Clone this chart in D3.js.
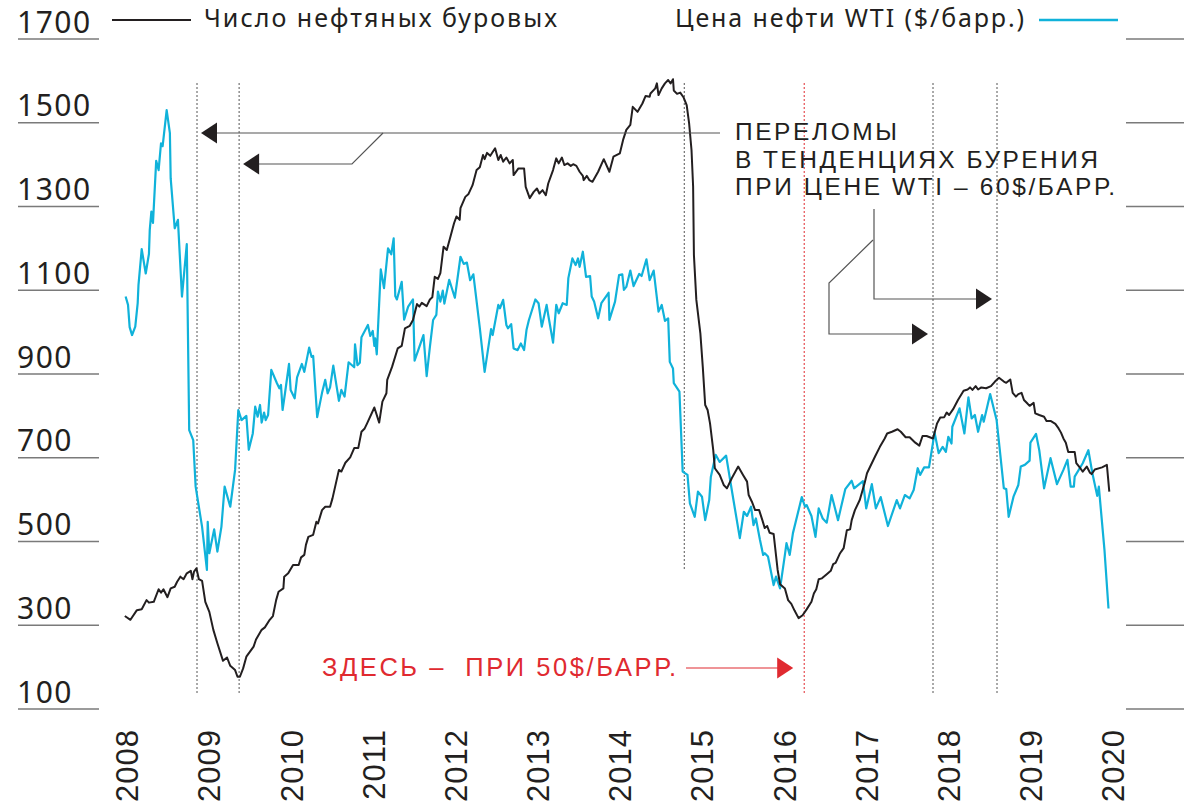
<!DOCTYPE html>
<html><head><meta charset="utf-8">
<script src="https://cdn.jsdelivr.net/npm/d3@7"></script>
<style>body{margin:0;background:#fff}svg{display:block}</style>
</head><body><svg id="c" width="1200" height="809"></svg>
<script>
// ---- DATA (decimal year, value) ----
const rigCount = [[2008.01,322],[2008.08,313],[2008.16,336],[2008.22,338],[2008.28,360],[2008.31,354],[2008.37,356],[2008.43,386],[2008.46,378],[2008.49,386],[2008.54,367],[2008.58,388],[2008.63,392],[2008.66,404],[2008.70,416],[2008.74,410],[2008.78,424],[2008.83,430],[2008.85,410],[2008.87,428],[2008.90,436],[2008.93,410],[2008.97,406],[2009.01,356],[2009.06,332],[2009.11,289],[2009.16,257],[2009.23,215],[2009.28,223],[2009.32,203],[2009.38,193],[2009.41,177],[2009.44,177],[2009.48,197],[2009.52,225],[2009.61,249],[2009.64,266],[2009.71,289],[2009.75,295],[2009.81,313],[2009.85,322],[2009.89,360],[2009.92,380],[2009.98,388],[2009.99,416],[2010.04,424],[2010.10,444],[2010.17,444],[2010.20,462],[2010.24,468],[2010.26,492],[2010.29,511],[2010.35,516],[2010.39,547],[2010.41,543],[2010.46,575],[2010.50,583],[2010.56,583],[2010.59,603],[2010.67,671],[2010.70,667],[2010.75,688],[2010.81,701],[2010.86,723],[2010.91,723],[2010.95,762],[2010.99,770],[2011.02,782],[2011.11,820],[2011.17,784],[2011.21,834],[2011.26,854],[2011.27,886],[2011.33,917],[2011.40,961],[2011.45,967],[2011.49,1009],[2011.55,1015],[2011.59,1029],[2011.64,1067],[2011.67,1061],[2011.70,1070],[2011.76,1062],[2011.80,1078],[2011.83,1083],[2011.86,1132],[2011.90,1127],[2011.93,1141],[2011.97,1204],[2012.01,1196],[2012.05,1224],[2012.10,1260],[2012.13,1276],[2012.17,1268],[2012.18,1296],[2012.24,1323],[2012.28,1330],[2012.33,1351],[2012.38,1387],[2012.42,1394],[2012.46,1423],[2012.48,1413],[2012.51,1428],[2012.55,1421],[2012.61,1439],[2012.65,1411],[2012.68,1423],[2012.71,1407],[2012.75,1417],[2012.79,1403],[2012.83,1411],[2012.84,1375],[2012.90,1391],[2012.97,1391],[2012.99,1347],[2013.04,1320],[2013.09,1335],[2013.13,1343],[2013.16,1331],[2013.20,1339],[2013.24,1327],[2013.27,1355],[2013.33,1387],[2013.37,1415],[2013.40,1403],[2013.44,1417],[2013.47,1399],[2013.51,1403],[2013.55,1397],[2013.58,1401],[2013.62,1397],[2013.66,1383],[2013.70,1373],[2013.71,1363],[2013.75,1373],[2013.78,1363],[2013.82,1359],[2013.89,1383],[2013.96,1413],[2014.03,1383],[2014.08,1419],[2014.16,1427],[2014.20,1459],[2014.24,1483],[2014.29,1495],[2014.32,1538],[2014.38,1526],[2014.44,1546],[2014.48,1564],[2014.53,1562],[2014.54,1570],[2014.60,1582],[2014.62,1594],[2014.64,1566],[2014.68,1582],[2014.72,1594],[2014.76,1602],[2014.79,1594],[2014.82,1604],[2014.83,1577],[2014.87,1569],[2014.91,1572],[2014.95,1561],[2014.99,1542],[2015.02,1499],[2015.05,1435],[2015.07,1347],[2015.08,1184],[2015.11,1077],[2015.16,997],[2015.19,917],[2015.22,826],[2015.25,814],[2015.28,782],[2015.32,718],[2015.34,675],[2015.40,659],[2015.45,635],[2015.49,627],[2015.55,651],[2015.63,679],[2015.69,659],[2015.74,643],[2015.76,611],[2015.80,595],[2015.84,575],[2015.89,575],[2015.93,551],[2015.96,532],[2015.99,537],[2016.02,521],[2016.07,518],[2016.12,432],[2016.15,398],[2016.21,388],[2016.25,360],[2016.29,351],[2016.33,335],[2016.38,317],[2016.43,324],[2016.48,338],[2016.54,356],[2016.57,376],[2016.60,386],[2016.63,410],[2016.67,412],[2016.73,422],[2016.78,430],[2016.81,446],[2016.84,449],[2016.89,470],[2016.91,476],[2016.94,484],[2016.98,527],[2017.02,529],[2017.04,551],[2017.08,575],[2017.14,599],[2017.20,639],[2017.23,663],[2017.27,679],[2017.33,703],[2017.39,726],[2017.45,746],[2017.48,758],[2017.54,762],[2017.61,768],[2017.65,762],[2017.71,749],[2017.76,749],[2017.83,736],[2017.88,729],[2017.92,752],[2017.97,752],[2018.05,746],[2018.10,782],[2018.14,796],[2018.19,797],[2018.22,808],[2018.25,802],[2018.30,816],[2018.36,838],[2018.43,860],[2018.48,863],[2018.51,868],[2018.54,862],[2018.58,871],[2018.61,863],[2018.65,868],[2018.71,866],[2018.77,871],[2018.82,882],[2018.87,891],[2018.93,882],[2018.96,879],[2019.01,887],[2019.04,855],[2019.08,846],[2019.11,852],[2019.15,855],[2019.18,838],[2019.22,830],[2019.25,824],[2019.30,831],[2019.32,806],[2019.37,802],[2019.43,798],[2019.46,788],[2019.51,788],[2019.57,781],[2019.61,770],[2019.64,760],[2019.67,746],[2019.70,736],[2019.73,714],[2019.81,714],[2019.83,687],[2019.88,675],[2019.91,667],[2019.96,679],[2020.00,664],[2020.02,661],[2020.06,672],[2020.15,677],[2020.21,683],[2020.24,619]];

const oilPrice = [[2008.02,98.5],[2008.05,96.5],[2008.07,91.2],[2008.10,89.3],[2008.14,91.3],[2008.17,96.9],[2008.18,101.3],[2008.22,109.8],[2008.27,104.0],[2008.31,108.7],[2008.32,114.4],[2008.34,118.8],[2008.36,116.1],[2008.40,130.9],[2008.43,128.7],[2008.46,135.1],[2008.48,134.4],[2008.53,143.0],[2008.57,137.5],[2008.58,126.7],[2008.63,114.8],[2008.67,116.8],[2008.72,98.5],[2008.78,111.0],[2008.81,66.6],[2008.86,64.2],[2008.89,53.1],[2008.97,43.5],[2009.03,33.2],[2009.04,44.7],[2009.06,37.2],[2009.12,42.9],[2009.16,37.6],[2009.21,43.5],[2009.25,53.1],[2009.32,48.3],[2009.38,57.1],[2009.42,71.4],[2009.46,69.0],[2009.52,70.0],[2009.55,61.9],[2009.60,65.8],[2009.63,72.2],[2009.66,69.8],[2009.69,72.6],[2009.71,68.4],[2009.74,70.8],[2009.76,69.0],[2009.79,70.2],[2009.83,81.0],[2009.90,77.8],[2009.93,76.6],[2009.95,77.4],[2009.97,71.4],[2010.00,75.4],[2010.05,82.4],[2010.07,76.2],[2010.12,74.2],[2010.15,79.2],[2010.21,82.4],[2010.24,80.5],[2010.30,86.3],[2010.33,84.1],[2010.35,84.3],[2010.40,69.7],[2010.46,75.5],[2010.50,78.6],[2010.53,75.4],[2010.56,76.8],[2010.60,82.0],[2010.67,73.6],[2010.70,76.2],[2010.74,74.6],[2010.79,82.8],[2010.86,81.6],[2010.87,87.1],[2010.90,82.1],[2010.93,82.7],[2010.95,88.8],[2011.03,91.7],[2011.06,89.1],[2011.09,90.3],[2011.11,86.7],[2011.12,88.5],[2011.14,84.7],[2011.19,105.0],[2011.23,100.5],[2011.28,110.0],[2011.32,108.6],[2011.35,112.4],[2011.37,98.6],[2011.39,97.8],[2011.45,102.0],[2011.48,93.0],[2011.53,96.1],[2011.59,97.8],[2011.61,83.2],[2011.72,89.3],[2011.76,79.5],[2011.80,86.5],[2011.84,92.9],[2011.88,94.1],[2011.90,99.7],[2011.93,97.3],[2011.96,99.9],[2011.98,96.8],[2012.04,102.5],[2012.11,98.2],[2012.18,108.0],[2012.22,106.3],[2012.26,106.6],[2012.30,102.4],[2012.34,103.8],[2012.42,91.0],[2012.48,80.5],[2012.56,90.7],[2012.58,89.3],[2012.65,96.5],[2012.67,95.7],[2012.71,97.7],[2012.75,91.7],[2012.77,90.9],[2012.81,91.9],[2012.84,86.1],[2012.89,85.7],[2012.93,87.3],[2012.97,85.7],[2013.00,90.5],[2013.03,92.9],[2013.11,97.8],[2013.15,96.9],[2013.19,91.3],[2013.25,96.5],[2013.27,94.1],[2013.33,87.5],[2013.37,96.5],[2013.40,94.5],[2013.45,96.9],[2013.50,96.5],[2013.52,102.9],[2013.57,107.6],[2013.61,106.0],[2013.64,107.6],[2013.66,105.6],[2013.70,109.2],[2013.74,103.2],[2013.79,103.4],[2013.81,98.5],[2013.84,97.3],[2013.89,93.3],[2013.93,96.9],[2014.02,99.4],[2014.03,92.9],[2014.10,97.3],[2014.15,103.6],[2014.19,103.8],[2014.21,100.1],[2014.24,100.8],[2014.29,104.7],[2014.33,101.0],[2014.40,103.9],[2014.43,103.4],[2014.49,107.4],[2014.53,102.4],[2014.58,104.7],[2014.64,94.9],[2014.68,96.5],[2014.72,92.7],[2014.76,93.3],[2014.78,82.9],[2014.82,81.3],[2014.83,77.8],[2014.90,75.8],[2014.94,56.7],[2015.00,55.9],[2015.03,49.1],[2015.09,45.9],[2015.13,51.9],[2015.18,50.7],[2015.22,45.1],[2015.27,49.9],[2015.29,55.4],[2015.35,60.7],[2015.40,59.0],[2015.48,60.5],[2015.54,53.5],[2015.65,40.8],[2015.70,47.1],[2015.74,46.1],[2015.79,48.3],[2015.82,43.9],[2015.85,45.5],[2015.90,40.4],[2015.94,36.8],[2015.96,37.2],[2016.00,36.4],[2016.07,29.6],[2016.10,31.6],[2016.15,28.8],[2016.21,36.8],[2016.23,39.6],[2016.27,36.8],[2016.31,42.0],[2016.42,50.6],[2016.46,48.3],[2016.48,48.7],[2016.54,46.1],[2016.59,41.1],[2016.63,47.9],[2016.68,45.5],[2016.73,44.5],[2016.79,51.1],[2016.87,45.1],[2016.96,52.5],[2017.04,54.5],[2017.07,52.7],[2017.18,54.4],[2017.22,47.9],[2017.29,53.7],[2017.34,47.9],[2017.40,50.6],[2017.49,43.7],[2017.60,49.9],[2017.64,47.9],[2017.70,51.1],[2017.76,50.3],[2017.81,52.3],[2017.86,57.5],[2017.89,55.9],[2017.94,57.7],[2018.00,57.7],[2018.07,66.0],[2018.12,61.1],[2018.17,62.6],[2018.21,61.4],[2018.24,65.0],[2018.28,63.4],[2018.29,67.4],[2018.38,71.8],[2018.44,65.8],[2018.49,74.4],[2018.53,69.4],[2018.57,70.2],[2018.61,66.2],[2018.66,70.2],[2018.68,68.6],[2018.76,75.2],[2018.84,69.0],[2018.88,61.8],[2018.93,52.7],[2018.96,52.5],[2018.99,45.9],[2019.05,50.7],[2019.11,53.5],[2019.14,57.9],[2019.19,58.3],[2019.25,59.3],[2019.26,63.6],[2019.33,65.7],[2019.37,61.8],[2019.43,52.7],[2019.51,59.9],[2019.59,53.7],[2019.67,57.1],[2019.72,59.5],[2019.76,53.1],[2019.80,53.1],[2019.81,55.5],[2019.91,58.7],[2019.98,61.8],[2020.03,56.3],[2020.09,50.9],[2020.11,53.1],[2020.18,38.0],[2020.23,24.0]];

const leftTicks = [100, 300, 500, 700, 900, 1100, 1300, 1500, 1700];
const rightTicks = [0, 20, 40, 60, 80, 100, 120, 140, 160];
const years = [2008, 2009, 2010, 2011, 2012, 2013, 2014, 2015, 2016, 2017, 2018, 2019, 2020];
const breaks60 = [2008.907, 2009.43, 2014.96, 2018.05, 2018.845];
const break50 = 2016.45;
const legendLabels = ["Число нефтяных буровых", "Цена нефти WTI ($/барр.)"];
const note60 = ["ПЕРЕЛОМЫ", "В ТЕНДЕНЦИЯХ БУРЕНИЯ", "ПРИ ЦЕНЕ WTI – 60$/БАРР."];
const note50 = "ЗДЕСЬ –  ПРИ 50$/БАРР.";

// ---- STYLE ----
const INK = "#231f20", BLUE = "#10b2da", RED = "#e02a30", GRID = "#7a7a7a";
const FONT = "'Noto Sans', sans-serif";
const NOTEFONT = "'Liberation Sans', Arial, sans-serif";

const svg = d3.select("#c");
const x = d3.scaleLinear().domain([2008, 2020.25]).range([124, 1110.1]);
const yearPos = d3.scaleLinear().domain([2008, 2020]).range([127, 1113]);
const y = d3.scaleLinear().domain([100, 1700]).range([709, 39]);
const y2 = d3.scaleLinear().domain([0, 160]).range([709, 39]);

// left axis: labels + underlines
const lt = svg.append("g");
leftTicks.forEach(v => {
  lt.append("line").attr("x1", 18).attr("x2", 99).attr("y1", y(v)).attr("y2", y(v))
    .attr("stroke", GRID).attr("stroke-width", 1.6);
  lt.append("text").attr("x", 17).attr("y", y(v) - 6.5).text(v)
    .attr("font-family", FONT).attr("font-size", 30).attr("letter-spacing", 1.5).attr("fill", INK);
});
// right axis lines (price scale, unlabeled)
rightTicks.forEach(v => {
  svg.append("line").attr("x1", 1126).attr("x2", 1184).attr("y1", y2(v)).attr("y2", y2(v))
    .attr("stroke", GRID).attr("stroke-width", 1.6);
});

// year labels
years.forEach(yr => {
  svg.append("text").attr("transform", `translate(${yearPos(yr)},729) rotate(-90)`)
    .attr("dy", "0.36em").attr("text-anchor", "end")
    .attr("font-family", NOTEFONT).attr("font-size", 31)
    .attr("letter-spacing", 1).attr("fill", INK).text(yr);
});

// vertical dashed break lines
breaks60.forEach((d, i) => {
  svg.append("line").attr("x1", x(d)).attr("x2", x(d)).attr("y1", 83).attr("y2", i === 2 ? 569 : 694)
    .attr("stroke", "#555").attr("stroke-width", 1).attr("stroke-dasharray", "2,2");
});
svg.append("line").attr("x1", x(break50)).attr("x2", x(break50)).attr("y1", 83).attr("y2", 694)
  .attr("stroke", RED).attr("stroke-width", 1).attr("stroke-dasharray", "2,2");

// data lines
const lineRig = d3.line().x(d => x(d[0])).y(d => y(d[1]));
const lineOil = d3.line().x(d => x(d[0])).y(d => y2(d[1]));
svg.append("path").attr("d", lineOil(oilPrice)).attr("fill", "none").attr("stroke", BLUE)
  .attr("stroke-width", 2.2).attr("stroke-linejoin", "round");
svg.append("path").attr("d", lineRig(rigCount)).attr("fill", "none").attr("stroke", INK)
  .attr("stroke-width", 2).attr("stroke-linejoin", "round");

// legend
svg.append("line").attr("x1", 112).attr("x2", 191).attr("y1", 20).attr("y2", 20).attr("stroke", INK).attr("stroke-width", 2);
svg.append("text").attr("x", 204).attr("y", 27).text(legendLabels[0])
  .attr("font-family", FONT).attr("font-size", 25).attr("fill", INK)
  .attr("textLength", 353).attr("lengthAdjust", "spacing");
svg.append("text").attr("x", 675).attr("y", 27).text(legendLabels[1])
  .attr("font-family", FONT).attr("font-size", 25).attr("fill", INK)
  .attr("textLength", 349).attr("lengthAdjust", "spacing");
svg.append("line").attr("x1", 1039).attr("x2", 1118).attr("y1", 20).attr("y2", 20).attr("stroke", BLUE).attr("stroke-width", 2.6);

// arrowheads
function tri(tipX, cy, dir, color) {
  const w = 16, h = 10.5;
  svg.append("path").attr("d", `M${tipX},${cy} L${tipX - dir * w},${cy - h} L${tipX - dir * w},${cy + h} Z`).attr("fill", color);
}
const ann = svg.append("g").attr("fill", "none").attr("stroke", "#555").attr("stroke-width", 1.2);
// left arrows
const a1 = x(breaks60[0]) + 4, a2 = x(breaks60[1]) + 4;
ann.append("path").attr("d", `M720,133 H${a1 + 10}`);
tri(a1, 133, -1, INK);
ann.append("path").attr("d", `M383,133 L352,164 H${a2 + 10}`);
tri(a2, 164, -1, INK);
// right arrows
const a3 = x(breaks60[4]) - 5, a4 = x(breaks60[3]) - 5;
ann.append("path").attr("d", `M874,209 V299 H${a3 - 10}`);
tri(a3, 299, 1, INK);
ann.append("path").attr("d", `M873,240 L829,283 V334 H${a4 - 10}`);
tri(a4, 334, 1, INK);
// red arrow
const a5 = x(break50) - 11;
svg.append("path").attr("d", `M686,668 H${a5 - 10}`).attr("stroke", RED).attr("stroke-width", 1.2).attr("fill", "none");
tri(a5, 668, 1, RED);

// notes
const nWidths = [162, 363, 380];
note60.forEach((t, i) => {
  svg.append("text").attr("x", 735).attr("y", 140 + i * 27.6).text(t)
    .attr("font-family", NOTEFONT).attr("font-size", 24.5).attr("fill", INK)
    .attr("textLength", nWidths[i]).attr("lengthAdjust", "spacing");
});
svg.append("text").attr("x", 322).attr("y", 676).text(note50).style("white-space", "pre")
  .attr("font-family", NOTEFONT).attr("font-size", 25.5).attr("fill", RED)
  .attr("textLength", 354).attr("lengthAdjust", "spacing");
</script>
</body></html>
